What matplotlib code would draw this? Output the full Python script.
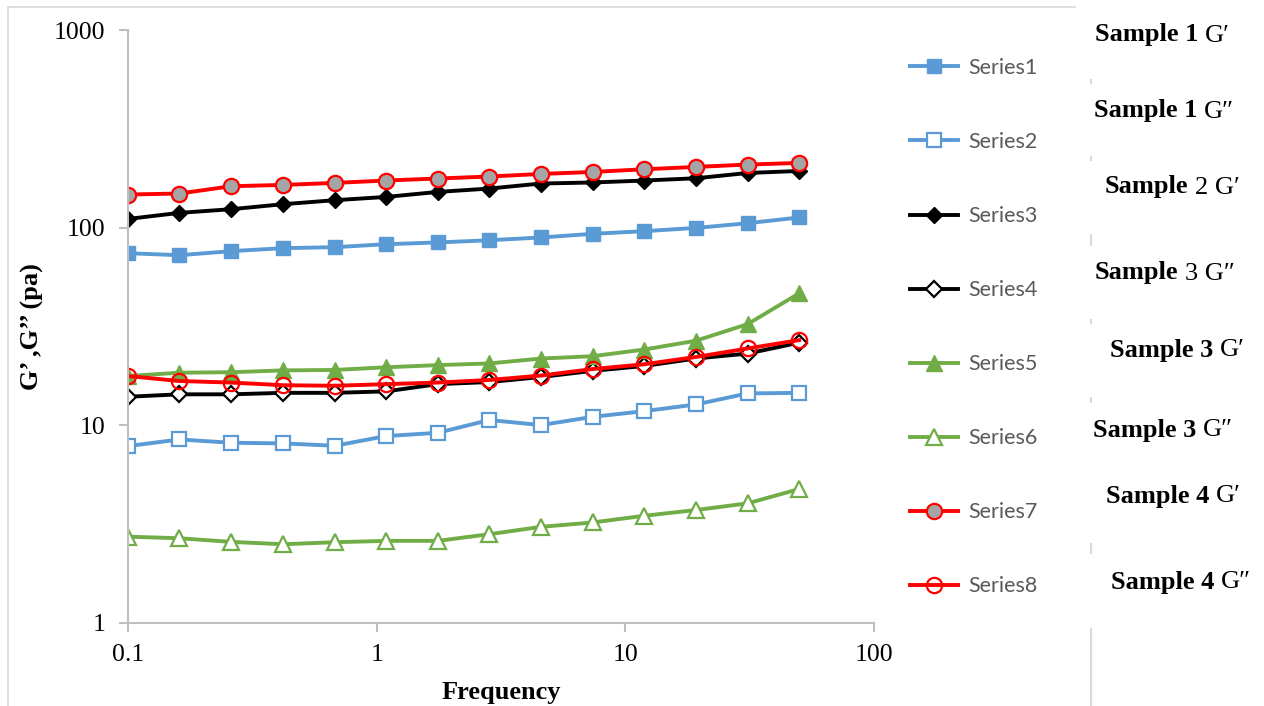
import matplotlib
matplotlib.use("Agg")
import matplotlib.pyplot as plt
from matplotlib.lines import Line2D
from matplotlib.offsetbox import TextArea, HPacker, AnnotationBbox

plt.rcParams["font.family"] = ["Liberation Serif", "DejaVu Serif"]

# data
freq = [0.1, 0.161, 0.26, 0.42, 0.68, 1.09, 1.76, 2.84, 4.58, 7.39, 11.9, 19.2, 31.0, 50.0]

series1 = [74.1, 72.4, 75.9, 78.6, 79.5, 82.3, 84.0, 86.2, 89.0, 92.9, 95.8, 99.5, 105.1, 112.4]
series2 = [7.82, 8.45, 8.13, 8.07, 7.85, 8.79, 9.13, 10.6, 9.99, 11.0, 11.75, 12.7, 14.45, 14.55]
series3 = [110.5, 118.6, 123.8, 131.2, 137.5, 142.8, 151.4, 157.5, 167.0, 169.0, 172.9, 177.5, 188.8, 193.3]
series4 = [13.9, 14.3, 14.3, 14.55, 14.55, 14.8, 16.1, 16.5, 17.5, 18.8, 19.9, 21.7, 23.0, 26.1]
series5 = [17.7, 18.4, 18.5, 18.9, 19.0, 19.6, 20.1, 20.5, 21.7, 22.3, 24.1, 26.7, 32.4, 46.4]
series6 = [2.72, 2.67, 2.56, 2.49, 2.55, 2.59, 2.59, 2.80, 3.05, 3.21, 3.47, 3.71, 4.01, 4.74]
series7 = [146.9, 148.6, 161.8, 164.3, 168.2, 172.9, 177.0, 181.2, 186.7, 191.1, 197.2, 202.6, 208.3, 212.3]
series8 = [17.7, 16.7, 16.4, 15.9, 15.8, 16.1, 16.4, 16.9, 17.8, 19.2, 20.3, 22.1, 24.4, 26.9]

series_names = ["Series1", "Series2", "Series3", "Series4",
                "Series5", "Series6", "Series7", "Series8"]

side_labels = [("Sample 1", "G\u2032"), ("Sample 1", "G\u2033"),
               ("Sample", "2 G\u2032"), ("Sample", "3 G\u2033"),
               ("Sample 3", "G\u2032"), ("Sample 3", "G\u2033"),
               ("Sample 4", "G\u2032"), ("Sample 4", "G\u2033")]
side_pos = [(1095, 35), (1094, 111), (1105, 187), (1095, 273),
            (1110, 350), (1093, 430), (1106, 496), (1111, 582)]

blue = "#5B9BD5"
green = "#70AD47"
red = "#FF0000"
grey = "#A5A5A5"

W, H = 1264, 706
fig = plt.figure(figsize=(W / 100, H / 100), dpi=100)
ax = fig.add_axes([128 / W, 1 - 622.5 / H, (874 - 128) / W, (622.5 - 30) / H])

lw = 2.8
mew = 1.6
ax.plot(freq, series1, color=blue, lw=lw, marker="s", ms=10, mfc=blue, mec=blue)
ax.plot(freq, series2, color=blue, lw=lw, marker="s", ms=10, mfc="white", mec=blue, mew=mew)
ax.plot(freq, series3, color="black", lw=lw, marker="D", ms=8, mfc="black", mec="black")
ax.plot(freq, series4, color="black", lw=lw, marker="D", ms=8, mfc="white", mec="black", mew=mew)
ax.plot(freq, series5, color=green, lw=lw, marker="^", ms=11, mfc=green, mec=green)
ax.plot(freq, series6, color=green, lw=lw, marker="^", ms=11, mfc="white", mec=green, mew=mew)
ax.plot(freq, series7, color=red, lw=lw, marker="o", ms=11, mfc=grey, mec=red, mew=mew)
ax.plot(freq, series8, color=red, lw=lw, marker="o", ms=11, mfc="none", mec=red, mew=mew)

ax.set_xscale("log")
ax.set_yscale("log")
ax.set_xlim(0.1, 100)
ax.set_ylim(1, 1000)
ax.set_xticks([0.1, 1, 10, 100])
ax.set_xticklabels(["0.1", "1", "10", "100"])
ax.set_yticks([1, 10, 100, 1000])
ax.set_yticklabels(["1", "10", "100", "1000"])
ax.minorticks_off()

for side in ["top", "right"]:
    ax.spines[side].set_visible(False)
for side in ["left", "bottom"]:
    ax.spines[side].set_color("#BFBFBF")
    ax.spines[side].set_linewidth(1.5)
ax.tick_params(axis="both", which="major", length=6.5, width=1.5, color="#BFBFBF",
               labelsize=18.5, labelcolor="black")
ax.tick_params(axis="y", pad=10)
ax.tick_params(axis="x", pad=9)

ax.set_xlabel("Frequency", fontsize=19, fontweight="bold", labelpad=11)
ax.set_ylabel("G\u2019 ,G\u2019\u2019 (pa)", fontsize=19, fontweight="bold", labelpad=7)

leg = ax.legend(series_names, loc="upper left", bbox_to_anchor=(910 / W, 1 - 58 / H),
                bbox_transform=fig.transFigure, frameon=False,
                prop={"family": "Lato", "size": 15.5}, labelcolor="#595959",
                handlelength=2.25, handletextpad=0.45, labelspacing=2.51,
                borderaxespad=0, borderpad=0)

# sample captions to the right of the chart
for (bold_part, plain_part), (px, py) in zip(side_labels, side_pos):
    t1 = TextArea(bold_part, textprops=dict(fontsize=19, fontweight="bold", color="black",
                                             family=["Liberation Serif", "DejaVu Serif"]))
    t2 = TextArea(plain_part, textprops=dict(fontsize=19, color="black",
                                             family=["Liberation Serif", "DejaVu Serif"]))
    box = HPacker(children=[t1, t2], align="baseline", pad=0, sep=5)
    ab = AnnotationBbox(box, (px / W, 1 - py / H), xycoords="figure fraction",
                        box_alignment=(0, 0.5), frameon=False, pad=0)
    fig.add_artist(ab)

# light frame lines around the chart area
frame_col = "#D9D9D9"
fig.add_artist(Line2D([8 / W, 1075 / W], [1 - 7 / H, 1 - 7 / H], color=frame_col, lw=1.2))
fig.add_artist(Line2D([8 / W, 8 / W], [1 - 7 / H, 0], color=frame_col, lw=1.2))
fig.add_artist(Line2D([1091 / W, 1091 / W], [1 - 629 / H, 0], color=frame_col, lw=1.5))
for y0, y1 in [(80, 83), (157, 160), (235, 245), (320, 323), (398, 402), (544, 553)]:
    fig.add_artist(Line2D([1091 / W, 1091 / W], [1 - y0 / H, 1 - y1 / H], color=frame_col, lw=1.5))

fig.savefig("out.png", dpi=100)
